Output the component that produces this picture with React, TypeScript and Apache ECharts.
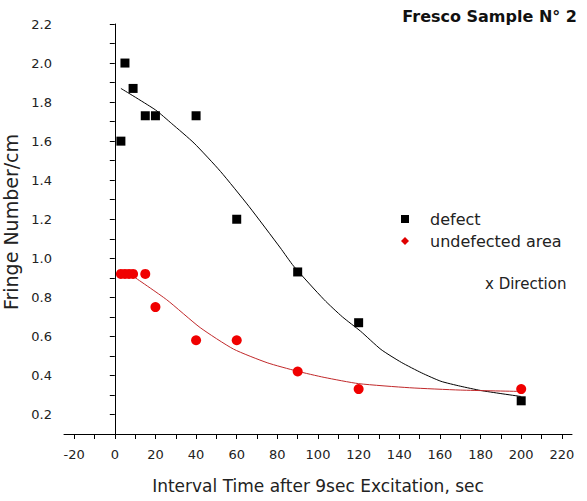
import React, { useEffect, useRef } from "react";
import * as echarts from "echarts";

const defectPoints: [number, number][] = [
  [3, 1.6], [5, 2.0], [9, 1.87], [15, 1.73], [20, 1.73], [40, 1.73],
  [60, 1.2], [90, 0.93], [120, 0.67], [200, 0.27],
];
const undefectedPoints: [number, number][] = [
  [3, 0.92], [5, 0.92], [7, 0.92], [9, 0.92], [15, 0.92], [20, 0.75],
  [40, 0.58], [60, 0.58], [90, 0.42], [120, 0.33], [200, 0.33],
];
const defectFit: [number, number][] = [
  [3, 1.87], [20, 1.76], [28, 1.69], [39, 1.59], [52, 1.445], [66, 1.266],
  [81.5, 1.053], [88, 0.96], [103, 0.788], [112, 0.7], [121, 0.626],
  [131, 0.533], [141, 0.467], [151, 0.413], [160.5, 0.37], [170, 0.345],
  [180, 0.323], [190, 0.307], [200, 0.292],
];
const undefectedFit: [number, number][] = [
  [9, 0.908], [25.5, 0.788], [42, 0.645], [58.4, 0.535], [75, 0.465],
  [89.7, 0.422], [103, 0.39], [120, 0.358], [145, 0.337], [170, 0.325],
  [200, 0.318],
];
const xLabelValues = [-20, 0, 20, 40, 60, 80, 100, 120, 140, 160, 180, 200, 220];
const xTickValues = [-20, -10, 0, 10, 20, 30, 40, 50, 60, 70, 80, 90, 100, 110, 120, 130, 140, 150, 160, 170, 180, 190, 200, 210, 220];
const yLabelValues = [0.2, 0.4, 0.6, 0.8, 1.0, 1.2, 1.4, 1.6, 1.8, 2.0, 2.2];
const yTickValues = [0.1, 0.2, 0.3, 0.4, 0.5, 0.6, 0.7, 0.8, 0.9, 1.0, 1.1, 1.2, 1.3, 1.4, 1.5, 1.6, 1.7, 1.8, 1.9, 2.0, 2.1, 2.2];

const FONT = "'DejaVu Sans', sans-serif";

export default function App() {
  const ref = useRef<HTMLDivElement>(null);
  useEffect(() => {
    document.body.style.margin = "0";
    const chart = echarts.init(ref.current!, null, { renderer: "svg" });
    chart.setOption({
      animation: false,
      backgroundColor: "#ffffff",
      textStyle: { fontFamily: FONT },
      grid: { left: 64, right: 15, top: 24, bottom: 67, containLabel: false, outerBoundsMode: "none" },
      legend: {
        orient: "vertical",
        left: 396,
        top: 206,
        itemWidth: 8,
        itemHeight: 8,
        itemGap: 6,
        textStyle: { fontSize: 16, color: "#222", fontFamily: FONT, padding: [0, 0, 0, 16] },
        data: [
          { name: "defect", icon: "rect", itemStyle: { color: "#000" } },
          { name: "undefected area", icon: "diamond", itemStyle: { color: "#e00000" } },
        ],
      },
      graphic: [
        {
          type: "text",
          right: 10,
          top: 8,
          style: { text: "Fresco Sample N° 2", fontSize: 16, fontWeight: "bold", fill: "#111", fontFamily: FONT },
        },
        {
          type: "text",
          left: 485,
          top: 276,
          style: { text: "x Direction", fontSize: 15, fill: "#222", fontFamily: FONT },
        },
      ],
      xAxis: {
        type: "value",
        min: -25,
        max: 225,
        name: "Interval Time after 9sec Excitation, sec",
        nameLocation: "middle",
        nameGap: 43,
        nameTextStyle: { fontSize: 17, color: "#222", fontFamily: FONT },
        axisLine: { show: true, lineStyle: { color: "#000", width: 1 } },
        axisTick: { show: true, length: 5, customValues: xTickValues, lineStyle: { color: "#000" } },
        axisLabel: { customValues: xLabelValues, fontSize: 13, color: "#222", margin: 14, fontFamily: FONT },
        splitLine: { show: false },
      },
      yAxis: {
        type: "value",
        min: 0.1,
        max: 2.2,
        name: "Fringe Number/cm",
        nameLocation: "middle",
        nameGap: 42,
        nameTextStyle: { fontSize: 19, color: "#222", fontFamily: FONT, padding: [0, 0, 0, 14] },
        axisLine: { show: true, lineStyle: { color: "#000", width: 1 } },
        axisTick: { show: true, length: 5, customValues: yTickValues, lineStyle: { color: "#000" } },
        axisLabel: {
          customValues: yLabelValues,
          fontSize: 13,
          color: "#222",
          margin: 12,
          fontFamily: FONT,
          formatter: (v: number) => v.toFixed(1),
        },
        splitLine: { show: false },
      },
      series: [
        {
          name: "defect fit",
          type: "line",
          data: defectFit,
          smooth: 0.2,
          showSymbol: false,
          lineStyle: { color: "#000", width: 1 },
          z: 1,
        },
        {
          name: "undefected fit",
          type: "line",
          data: undefectedFit,
          smooth: 0.2,
          showSymbol: false,
          lineStyle: { color: "#c0282a", width: 1 },
          z: 1,
        },
        {
          name: "defect",
          type: "scatter",
          data: defectPoints,
          symbol: "rect",
          symbolSize: 9,
          itemStyle: { color: "#000", opacity: 1 },
          z: 3,
        },
        {
          name: "undefected area",
          type: "scatter",
          data: undefectedPoints,
          symbol: "circle",
          symbolSize: 10,
          itemStyle: { color: "#f00000", opacity: 1 },
          z: 3,
        },
      ],
    });
    return () => chart.dispose();
  }, []);
  return <div ref={ref} style={{ width: 587, height: 501 }} />;
}
